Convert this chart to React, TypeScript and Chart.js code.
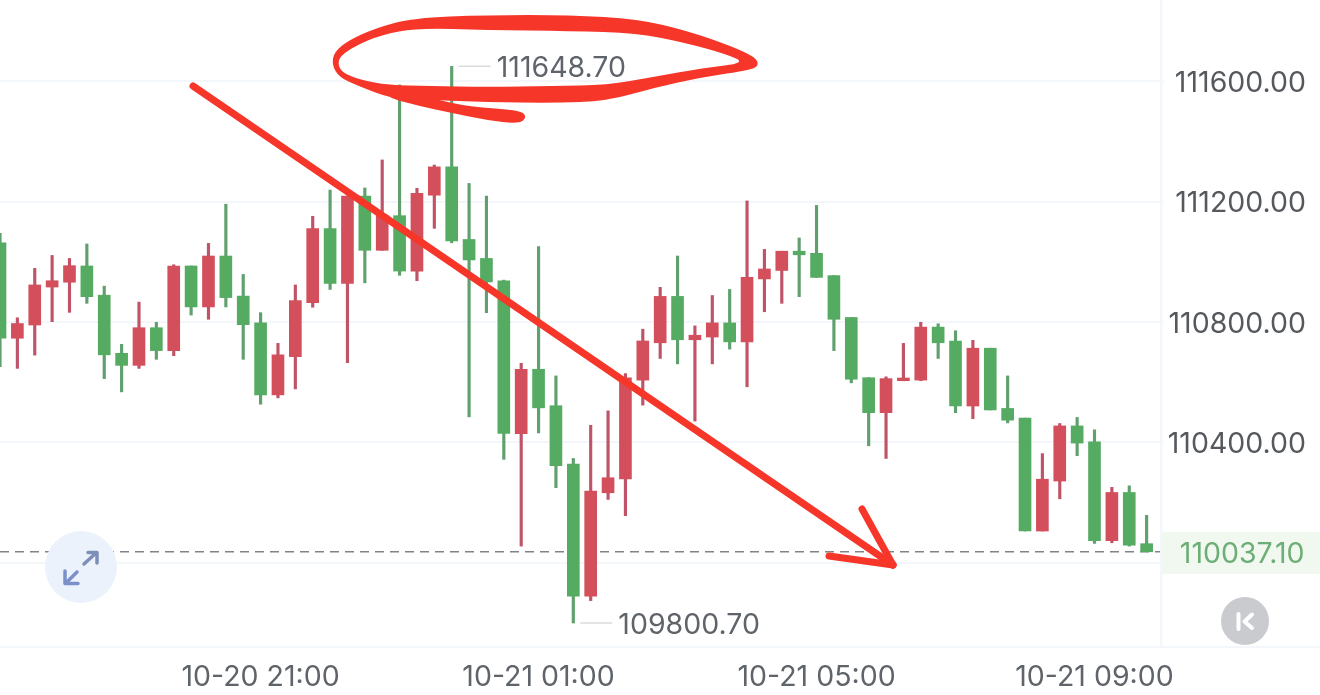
import React, { useEffect, useRef } from "react";
import { Chart, registerables } from "chart.js";

Chart.register(...registerables);

const timeLabels = [
  "10-20 17:15","10-20 17:30","10-20 17:45","10-20 18:00","10-20 18:15","10-20 18:30","10-20 18:45","10-20 19:00",
  "10-20 19:15","10-20 19:30","10-20 19:45","10-20 20:00","10-20 20:15","10-20 20:30","10-20 20:45","10-20 21:00",
  "10-20 21:15","10-20 21:30","10-20 21:45","10-20 22:00","10-20 22:15","10-20 22:30","10-20 22:45","10-20 23:00",
  "10-20 23:15","10-20 23:30","10-20 23:45","10-21 00:00","10-21 00:15","10-21 00:30","10-21 00:45","10-21 01:00",
  "10-21 01:15","10-21 01:30","10-21 01:45","10-21 02:00","10-21 02:15","10-21 02:30","10-21 02:45","10-21 03:00",
  "10-21 03:15","10-21 03:30","10-21 03:45","10-21 04:00","10-21 04:15","10-21 04:30","10-21 04:45","10-21 05:00",
  "10-21 05:15","10-21 05:30","10-21 05:45","10-21 06:00","10-21 06:15","10-21 06:30","10-21 06:45","10-21 07:00",
  "10-21 07:15","10-21 07:30","10-21 07:45","10-21 08:00","10-21 08:15","10-21 08:30","10-21 08:45","10-21 09:00",
  "10-21 09:15","10-21 09:30","10-21 09:45","10-21 10:00",
];
const shownTimes = ["10-20 21:00", "10-21 01:00", "10-21 05:00", "10-21 09:00"];

const opens = [
  111063,110746,110790,110916,110932,110986,110889,110696,110656,110781,110705,110986,110850,111019,110886,110797,110558,
  110685,110864,111110,110928,111218,111038,111153,110969,111221,111315,111074,111011,110937,110429,110643,110522,110328,
  109890,110233,110279,110607,110731,110885,110741,110750,110797,110734,110943,110971,111035,111028,110954,110815,110615,
  110499,110605,110607,110783,110737,110521,110713,110513,110481,110106,110272,110455,110402,110074,110234,110064,
];
const closes = [
  110746,110795,110923,110937,110987,110884,110691,110656,110781,110705,110986,110850,111019,110881,110791,110558,110691,
  110871,111110,110928,111218,111038,111155,110969,111227,111315,111069,111006,110933,110430,110643,110515,110323,109890,
  110239,110283,110615,110737,110885,110741,110756,110797,110734,110948,110976,111035,111023,110948,110809,110610,110499,
  110612,110614,110783,110731,110521,110713,110508,110474,110106,110278,110455,110398,110074,110234,110059,110037.1,
];
const highs = [
  111094,110814,110978,111021,111011,111059,110919,110726,110866,110799,110990,110986,111061,111191,110958,110831,110729,
  110923,111151,111238,111218,111245,111338,111587,111244,111321,111648.7,111260,111218,110939,110663,111050,110621,110347,
  110457,110505,110629,110776,110915,111019,110787,110888,110908,111202,111041,111035,111079,111187,110954,110815,110615,
  110618,110729,110799,110794,110771,110739,110713,110621,110481,110363,110463,110483,110442,110251,110256,110158,
];
const lows = [
  110652,110646,110690,110801,110832,110862,110612,110568,110646,110676,110688,110823,110809,110850,110676,110527,110548,
  110578,110849,110908,110665,110930,111038,110955,110937,111111,111063,110485,110831,110344,110056,110432,110250,109800.7,
  109875,110211,110157,110524,110679,110661,110471,110661,110710,110585,110834,110862,110884,110948,110705,110598,110389,
  110347,110605,110605,110679,110499,110479,110508,110465,110106,110106,110213,110356,110065,110067,110056,110037.1,
];
const priceTicks = [110000, 110400, 110800, 111200, 111600];
const hiddenPriceTick = 110000;
const lastPrice = 110037.1;
const yMin = 109721;
const yMax = 111869;

const UP = "#d34f5c";
const DOWN = "#56ab62";
const UP_WICK = "#bf5468";
const DOWN_WICK = "#5fa06e";
const INK = "#f7362a";
const FONT = "Inter, sans-serif";
const FONT_SIZE = 28.5;

// hand-drawn annotation outlines (page pixels)
const ringOuter = [[332,65],[334,52],[349,40],[376,28],[413,18],[487,15],[570,15],[638,19],[688,31],[731,46],[755,57],[759,65],[751,70],[703,77],[653,88],[607,101],[553,103],[487,102],[430,100],[392,99],[356,85],[339,77]];
const ringInner = [[338,65],[340,56],[357,45],[381,35],[417,28],[487,30],[570,31],[637,33],[686,43],[726,54],[746,63],[703,68],[653,77],[607,85],[553,86],[487,87],[430,86],[388,85],[361,80],[343,73]];
const ringTail = [[386,88],[430,98],[470,107],[520,110],[527,117],[519,124],[486,120],[452,113],[419,106],[386,97]];

function smooth(ctx: CanvasRenderingContext2D, pts: number[][]) {
  const n = pts.length;
  ctx.moveTo((pts[n - 1][0] + pts[0][0]) / 2, (pts[n - 1][1] + pts[0][1]) / 2);
  for (let i = 0; i < n; i++) {
    const p = pts[i];
    const q = pts[(i + 1) % n];
    ctx.quadraticCurveTo(p[0], p[1], (p[0] + q[0]) / 2, (p[1] + q[1]) / 2);
  }
  ctx.closePath();
}

function seg(ctx: CanvasRenderingContext2D, pts: number[][], color: string, w: number) {
  ctx.beginPath();
  pts.forEach((p, i) => (i ? ctx.lineTo(p[0], p[1]) : ctx.moveTo(p[0], p[1])));
  ctx.strokeStyle = color;
  ctx.lineWidth = w;
  ctx.lineCap = "round";
  ctx.lineJoin = "round";
  ctx.setLineDash([]);
  ctx.stroke();
}

const underlay = {
  id: "underlay",
  beforeDatasetsDraw(chart: any) {
    const { ctx, scales } = chart;
    ctx.save();
    const y = scales.y.getPixelForValue(lastPrice);
    ctx.strokeStyle = "#80848a";
    ctx.lineWidth = 1.4;
    ctx.setLineDash([9, 6]);
    ctx.beginPath();
    ctx.moveTo(0, y);
    ctx.lineTo(1161, y);
    ctx.stroke();
    ctx.restore();
  },
};

const overlay = {
  id: "overlay",
  afterDraw(chart: any) {
    const { ctx, scales } = chart;
    const x = scales.x;
    const y = scales.y;
    ctx.save();

    // frame lines
    ctx.fillStyle = "#f3f6fb";
    ctx.fillRect(1160, 0, 2.5, 647);
    ctx.fillRect(0, 646, 1320, 2);

    // last price tag
    ctx.fillStyle = "#f0f8f0";
    ctx.fillRect(1162, 532, 158, 42);
    ctx.fillStyle = "#6cae76";
    ctx.font = `${FONT_SIZE}px ${FONT}`;
    ctx.textAlign = "right";
    ctx.textBaseline = "middle";
    ctx.fillText(lastPrice.toFixed(2), 1304.5, y.getPixelForValue(lastPrice) + 3);

    // high / low markers
    const hi = highs.indexOf(Math.max(...highs));
    const lo = lows.indexOf(Math.min(...lows));
    ctx.textAlign = "left";
    ctx.fillStyle = "#5f646a";
    ctx.strokeStyle = "#d9dbde";
    ctx.lineWidth = 1.5;
    [[hi, highs[hi]], [lo, lows[lo]]].forEach(([i, v]) => {
      const px = x.getPixelForValue(i);
      const py = y.getPixelForValue(v);
      ctx.beginPath();
      ctx.moveTo(px + 7, py);
      ctx.lineTo(px + 39, py);
      ctx.stroke();
      ctx.fillText(v.toFixed(2), px + 45, py + 2.5);
    });

    // expand button
    ctx.fillStyle = "#ecf2fb";
    ctx.beginPath();
    ctx.arc(81, 567, 36, 0, Math.PI * 2);
    ctx.fill();
    seg(ctx, [[84, 564], [96, 553]], "#7d8fb8", 3.5);
    seg(ctx, [[88, 552.5], [97, 552.5], [97, 563]], "#7d8fb8", 3.5);
    seg(ctx, [[77, 572], [66, 583]], "#7b8fcb", 3.5);
    seg(ctx, [[65, 571], [65, 583.5], [78, 583.5]], "#7b8fcb", 3.5);

    // K button
    ctx.fillStyle = "#c9cbcf";
    ctx.beginPath();
    ctx.arc(1245, 621, 24, 0, Math.PI * 2);
    ctx.fill();
    seg(ctx, [[1238.5, 614], [1238.5, 629]], "#ffffff", 4);
    seg(ctx, [[1252, 614.5], [1244.5, 621.5], [1252, 628]], "#ffffff", 4);

    // red hand-drawn marks
    ctx.fillStyle = INK;
    ctx.beginPath();
    smooth(ctx, ringOuter);
    smooth(ctx, ringInner);
    ctx.fill("evenodd");
    ctx.beginPath();
    smooth(ctx, ringTail);
    ctx.fill();
    seg(ctx, [[193, 86], [893, 565]], INK, 7);
    seg(ctx, [[862, 509], [893, 565]], INK, 7);
    seg(ctx, [[829, 556], [893, 565]], INK, 7);

    ctx.restore();
  },
};

export default function App() {
  const ref = useRef<HTMLCanvasElement>(null);

  useEffect(() => {
    document.body.style.margin = "0";
    document.body.style.background = "#ffffff";
    const up = (i: number) => closes[i] >= opens[i];
    const chart = new Chart(ref.current as HTMLCanvasElement, {
      type: "bar",
      data: {
        labels: timeLabels,
        datasets: [
          {
            label: "Body",
            data: opens.map((o, i) => [o, closes[i]]) as any,
            backgroundColor: opens.map((_, i) => (up(i) ? UP : DOWN)),
            barThickness: 12,
            grouped: false,
            order: 1,
          },
          {
            label: "Wick",
            data: lows.map((l, i) => [l, highs[i]]) as any,
            backgroundColor: lows.map((_, i) => (up(i) ? UP_WICK : DOWN_WICK)),
            barThickness: 2.5,
            grouped: false,
            order: 2,
          },
        ],
      },
      options: {
        responsive: false,
        animation: false,
        layout: { padding: { top: 0, left: 0, bottom: 0, right: 14 } },
        plugins: { legend: { display: false }, tooltip: { enabled: false } },
        scales: {
          x: {
            type: "category",
            offset: false,
            grid: { display: false },
            border: { display: false },
            ticks: {
              autoSkip: false,
              maxRotation: 0,
              minRotation: 0,
              padding: 5,
              color: "#5f646a",
              font: { family: FONT, size: FONT_SIZE },
              callback(v: any) {
                const label = timeLabels[v as number];
                return shownTimes.includes(label) ? label : "";
              },
            },
            afterFit(s: any) {
              s.height = 48;
              s.paddingLeft = s.paddingRight = s.paddingTop = s.paddingBottom = 0;
            },
          },
          y: {
            position: "right",
            min: yMin,
            max: yMax,
            border: { display: false },
            grid: { color: "#f3f6fb", lineWidth: 2, drawTicks: false },
            afterBuildTicks(s: any) {
              s.ticks = priceTicks.map((value) => ({ value }));
            },
            ticks: {
              crossAlign: "far",
              labelOffset: 2,
              color: "#55595e",
              font: { family: FONT, size: FONT_SIZE },
              callback(v: any) {
                return v === hiddenPriceTick ? "" : Number(v).toFixed(2);
              },
            },
            afterFit(s: any) {
              s.width = 142;
              s.paddingLeft = s.paddingRight = s.paddingTop = s.paddingBottom = 0;
            },
          },
        },
      },
      plugins: [underlay, overlay],
    } as any);
    return () => chart.destroy();
  }, []);

  return (
    <div style={{ position: "absolute", left: 0, top: 0, width: 1320, height: 695, overflow: "hidden", background: "#fff" }}>
      <canvas ref={ref} width={1320} height={695} style={{ display: "block" }} />
    </div>
  );
}
